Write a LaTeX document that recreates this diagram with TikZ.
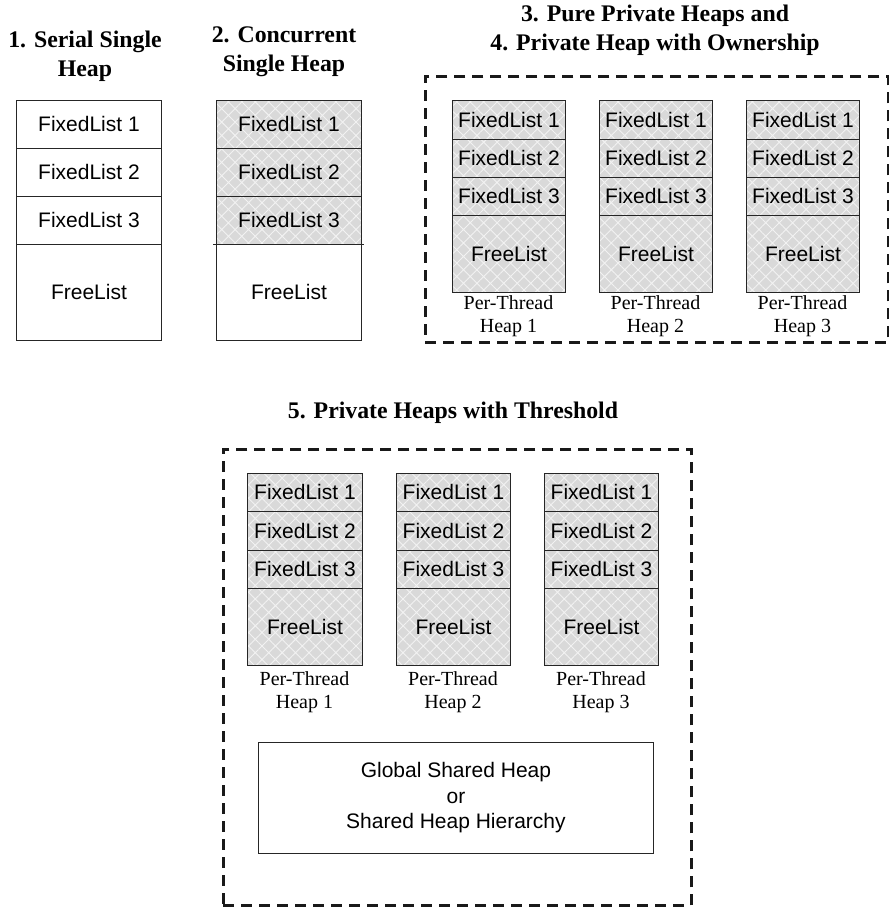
\documentclass[tikz,border=0pt]{standalone}
\usepackage{fontspec}
\setmainfont{Liberation Serif}
\setsansfont{Liberation Sans}
\usetikzlibrary{patterns.meta}
\tikzset{
  cell/.style={draw=black!85, line width=0.9pt, inner sep=0pt, font=\sffamily\fontsize{21}{25}\selectfont},
  shaded/.style={preaction={fill=black!15}, pattern={Hatch[angle=45,distance=9.5pt,line width=0.9pt]}, pattern color=black!5},
  title/.style={font=\rmfamily\bfseries\fontsize{23.8}{29}\selectfont, align=center, inner sep=0pt},
  caption/.style={font=\rmfamily\fontsize{20}{23}\selectfont, align=center, inner sep=0pt},
  frame/.style={draw=black!90, line width=2.5pt, dash pattern=on 11pt off 7pt, inner sep=0pt},
}
% #1 name, #2 xl, #3 xr, #4..#8 row boundaries, #9 style of the three fixed lists
\newcommand\heapcol[9]{%
  \node[cell,#9,minimum width=#3-#2,minimum height=#5-#4,anchor=north west] (#1a) at (#2,#4) {FixedList 1};
  \node[cell,#9,minimum width=#3-#2,minimum height=#6-#5,anchor=north west] (#1b) at (#2,#5) {FixedList 2};
  \node[cell,#9,minimum width=#3-#2,minimum height=#7-#6,anchor=north west] (#1c) at (#2,#6) {FixedList 3};
}
\newcommand\freecell[6]{%
  \node[cell,#6,minimum width=#3-#2,minimum height=#5-#4,anchor=north west] (#1) at (#2,#4) {FreeList};
}
\begin{document}
\begin{tikzpicture}[x=1pt,y=-1pt]
\useasboundingbox (0,0) rectangle (889,908);

% ---------- 1. Serial Single Heap
\node[title] (t1) at (85,56) {1. Serial Single\\Heap};
\heapcol{p1}{16}{161}{100}{148}{196}{244}{340}{}
\freecell{p1free}{16}{161}{244}{340}{}

% ---------- 2. Concurrent Single Heap
\node[title] (t2) at (284,52) {2. Concurrent\\Single Heap};
\heapcol{p2}{216}{361}{100}{148}{196}{244}{340}{shaded}
\freecell{p2free}{216}{361}{244}{340}{}
\draw[line width=0.9pt, draw=black!85] ([xshift=-3pt]p2c.south west) -- ([xshift=2pt]p2c.south east);

% ---------- 3/4. Pure Private Heaps
\node[title] (t3) at (655,30.5) {3. Pure Private Heaps and\\4. Private Heap with Ownership};
\node[frame, minimum width=463, minimum height=266, anchor=north west] (f3) at (424,75) {};
\heapcol{ha}{452}{565}{100}{139}{177}{215}{292}{shaded}
\freecell{hafree}{452}{565}{215}{292}{shaded}
\heapcol{hb}{599}{712}{100}{139}{177}{215}{292}{shaded}
\freecell{hbfree}{599}{712}{215}{292}{shaded}
\heapcol{hc}{746}{859}{100}{139}{177}{215}{292}{shaded}
\freecell{hcfree}{746}{859}{215}{292}{shaded}
\node[caption] (ca) at (508.5,316.5) {Per-Thread\\Heap 1};
\node[caption] (cb) at (655.5,316.5) {Per-Thread\\Heap 2};
\node[caption] (cc) at (802.5,316.5) {Per-Thread\\Heap 3};

% ---------- 5. Private Heaps with Threshold
\node[title] (t5) at (453,413) {5. Private Heaps with Threshold};
\node[frame, minimum width=468, minimum height=456, anchor=north west] (f5) at (222,448) {};
\heapcol{ka}{247}{362}{473}{511}{550}{588}{665}{shaded}
\freecell{kafree}{247}{362}{588}{665}{shaded}
\heapcol{kb}{396}{510}{473}{511}{550}{588}{665}{shaded}
\freecell{kbfree}{396}{510}{588}{665}{shaded}
\heapcol{kc}{544}{658}{473}{511}{550}{588}{665}{shaded}
\freecell{kcfree}{544}{658}{588}{665}{shaded}
\node[caption] (da) at (304.5,692) {Per-Thread\\Heap 1};
\node[caption] (db) at (453,692) {Per-Thread\\Heap 2};
\node[caption] (dc) at (601,692) {Per-Thread\\Heap 3};
\node[cell, minimum width=395, minimum height=111, anchor=north west, align=center,
      font=\sffamily\fontsize{21}{25.5}\selectfont] (glob) at (258,742)
      {Global Shared Heap\\or\\Shared Heap Hierarchy};
\end{tikzpicture}
\end{document}
